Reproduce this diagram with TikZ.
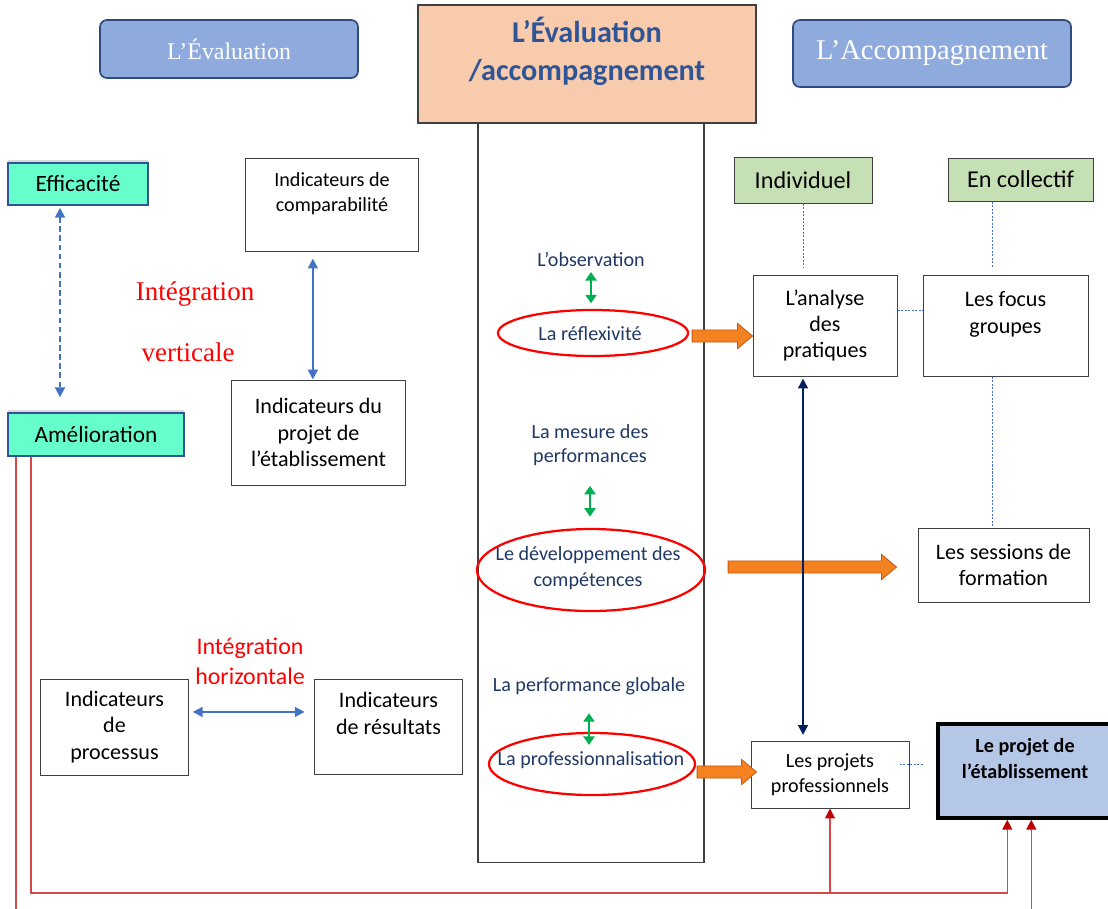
\documentclass[tikz,border=0pt]{standalone}
\usepackage{fontspec}
\setmainfont{Carlito}
\newfontfamily\hdrfont{Liberation Serif}
\usetikzlibrary{arrows.meta,positioning,calc,shapes.geometric,shadows}
\definecolor{inkline}{HTML}{404040}
\definecolor{hdrfill}{HTML}{8FAADC}
\definecolor{hdredge}{HTML}{2F4B7C}
\definecolor{titlefill}{HTML}{F8CBAD}
\definecolor{titletext}{HTML}{2F5597}
\definecolor{goalfill}{HTML}{66FFCC}
\definecolor{goaledge}{HTML}{2F5597}
\definecolor{tagfill}{HTML}{C5E0B4}
\definecolor{midtext}{HTML}{203864}
\definecolor{linkblue}{HTML}{4472C4}
\definecolor{pairgreen}{HTML}{00B050}
\definecolor{navyline}{HTML}{002060}
\definecolor{ringred}{HTML}{FF0000}
\definecolor{fatfill}{HTML}{F58220}
\definecolor{fatedge}{HTML}{C55A11}
\definecolor{fbred}{HTML}{C00000}
\definecolor{fbline}{HTML}{D94848}
\definecolor{projfill}{HTML}{B4C7E7}
\newcommand{\fsz}[2]{\fontsize{#1}{#2}\selectfont}
\newcommand{\fatarrow}[2]{%
  \draw[fat] let \p1=#1, \p2=#2 in
    (\x1,\y1+4.3pt) -- (\x2-10.7pt,\y1+4.3pt) -- (\x2-10.7pt,\y1+9pt)
    -- (\x2,\y1) -- (\x2-10.7pt,\y1-9pt) -- (\x2-10.7pt,\y1-4.3pt)
    -- (\x1,\y1-4.3pt) -- cycle;}

\begin{document}
\begin{tikzpicture}[
  x=0.025cm, y=-0.025cm,
  box/.style={draw=inkline, line width=0.7pt, fill=white, align=center,
              inner sep=0pt, font=\fsz{15.7}{18.8}},
  smallbox/.style={box, font=\fsz{14.3}{17.8}},
  projbox/.style={draw=black, line width=2.4pt, fill=projfill, align=center,
                  inner sep=0pt, font=\fsz{14.3}{18.4}\bfseries},
  hdr/.style={rounded corners=5pt, draw=hdredge, line width=1.2pt, fill=hdrfill,
              text=white, inner sep=0pt},
  titlebox/.style={draw=inkline, line width=0.8pt, fill=titlefill, align=center,
                   text=titletext, inner sep=0pt, font=\fsz{21.5}{27}\bfseries},
  colbox/.style={draw=inkline, line width=0.8pt, inner sep=0pt},
  goal/.style={draw=goaledge, line width=0.9pt, fill=goalfill, inner sep=0pt,
               font=\fsz{16.6}{20},
               drop shadow={shadow xshift=0pt, shadow yshift=2pt, opacity=0.3}},
  tag/.style={draw=inkline, line width=0.7pt, fill=tagfill, inner sep=0pt,
              font=\fsz{17.2}{20}},
  midtxt/.style={text=midtext, align=center, inner sep=0pt, font=\fsz{14.3}{17.5}},
  ring/.style={ellipse, draw=ringred, line width=1.6pt, inner sep=0pt},
  redtxt/.style={text=ringred, align=center, inner sep=0pt},
  pair/.style={{Triangle[length=6pt,width=8pt]}-{Triangle[length=6pt,width=8pt]},
               draw=pairgreen, line width=1pt},
  link/.style={{Triangle[length=7pt,width=7pt]}-{Triangle[length=7pt,width=7pt]},
               draw=linkblue, line width=1.4pt},
  dashlink/.style={link, dash pattern=on 4pt off 2.5pt},
  navy/.style={{Triangle[length=7pt,width=7pt]}-{Triangle[length=7pt,width=7pt]},
               draw=navyline, line width=1.4pt},
  dots/.style={draw=linkblue, line width=0.6pt, dash pattern=on 1.5pt off 1pt},
  fb/.style={-{Triangle[length=7pt,width=7pt,color=fbred]}, draw=fbline, line width=0.8pt},
  fat/.style={fill=fatfill, draw=fatedge, line width=0.6pt},
]
\useasboundingbox (0,0) rectangle (1108,908);

% ---- headers ----
\node[hdr, minimum width=6.45cm, minimum height=1.45cm, font=\hdrfont\fsz{17}{20}] (evalhdr) at (229,49) {L’Évaluation};
\node[hdr, minimum width=6.95cm, minimum height=1.675cm, font=\hdrfont\fsz{20.3}{24}] (accohdr) at (932,53.5) {L’Accompagnement};

% ---- central column ----
\node[colbox, minimum width=5.65cm, minimum height=18.475cm] (column) at (591,492.5) {};
\node[titlebox, minimum width=8.45cm, minimum height=2.95cm] (title) at (587,64) {L’Évaluation\\/accompagnement\\[-5.5pt]\mbox{}};

\node[midtxt] (observ)   at (591,259) {L’observation};
\node[midtxt] (reflex)   at (590,334) {La réflexivité};
\node[ring, minimum width=4.75cm, minimum height=1.15cm] (ringrefl) at (593,333) {};
\node[midtxt] (mesure)   at (590,445) {La mesure des\\performances};
\node[midtxt, font=\fsz{14.3}{18.5}] (devcomp) at (588,568) {Le développement des\\compétences};
\node[ring, minimum width=5.7cm, minimum height=2.05cm] (ringdev) at (591,570) {};
\node[midtxt] (perfglob) at (589,686) {La performance globale};
\node[midtxt] (profes)   at (591,760) {La professionnalisation};
\node[ring, minimum width=5.15cm, minimum height=1.55cm] (ringprof) at (592,764) {};

% ---- evaluation side ----
\node[goal, minimum width=3.5cm, minimum height=1.05cm] (effic) at (78,184) {Efficacité};
\node[goal, minimum width=4.4cm, minimum height=1.075cm] (amel) at (96,434.5) {Amélioration};
\node[smallbox, minimum width=4.3cm, minimum height=2.325cm] (comparab) at (332,204.5) {Indicateurs de\\comparabilité\\~};
\node[box, minimum width=4.325cm, minimum height=2.625cm] (indproj) at (318.5,432.5) {Indicateurs du\\projet de\\l’établissement};
\node[box, minimum width=3.675cm, minimum height=2.4cm] (process) at (114.5,727) {Indicateurs\\de\\processus};
\node[box, minimum width=3.675cm, minimum height=2.375cm] (result) at (388.5,726.5) {Indicateurs\\de résultats\\~};
\node[redtxt, font=\hdrfont\fsz{19.2}{23}] (intv1) at (195,294) {Intégration};
\node[redtxt, font=\hdrfont\fsz{19.2}{23}] (intv2) at (188,352) {verticale};
\node[redtxt, font=\fsz{17}{21.3}] (inth) at (250,661) {Intégration\\horizontale};

% ---- accompaniment side ----
\node[tag, minimum width=3.45cm, minimum height=1.15cm] (indiv) at (803,180) {Individuel};
\node[tag, minimum width=3.625cm, minimum height=1.075cm] (collectif) at (1020.5,179.5) {En collectif};
\node[box, minimum width=3.6cm, minimum height=2.525cm] (analyse) at (825,325.5) {L’analyse\\des\\pratiques};
\node[box, minimum width=4.125cm, minimum height=2.525cm] (focus) at (1005.5,325.5) {Les focus\\groupes\\~};
\node[box, minimum width=4.275cm, minimum height=1.85cm] (sessions) at (1003.5,565) {Les sessions de\\formation};
\node[smallbox, minimum width=3.95cm, minimum height=1.675cm] (projets) at (830,774.5) {Les projets\\professionnels};
\node[projbox, minimum width=4.35cm, minimum height=2.35cm] (projet) at (1025,771) {Le projet de\\l’établissement\\~};

% ---- arrows ----
\draw[pair, shorten <=4pt, shorten >=4pt] (observ.south) -- (observ.south |- ringrefl.north);
\draw[pair, shorten <=14pt, shorten >=8pt] (mesure.south) -- (mesure.south |- ringdev.north);
\draw[pair, shorten <=13pt] (perfglob.south) -- ($(perfglob.south |- ringprof.north)+(0,13)$);

\fatarrow{($(ringrefl.east)+(3,3)$)}{(analyse.west)}
\fatarrow{($(ringdev.east)+(22,-3)$)}{($(sessions.west)+(-21,0)$)}
\fatarrow{($(ringprof.east)+(1,8)$)}{($(projets.west)+(6,0)$)}

\draw[dashlink, shorten <=1.5pt, shorten >=10.7pt] ([xshift=-12.8pt]effic.south) -- ([xshift=-12.8pt]effic.south |- amel.north);
\draw[link, shorten <=5pt] ([xshift=-4pt]indproj.north |- comparab.south) -- ([xshift=-4pt]indproj.north);
\draw[link, shorten <=3pt, shorten >=7pt] ([yshift=10.7pt]process.east) -- ([yshift=10.7pt]process.east -| result.west);

\draw[navy, shorten <=1.5pt, shorten >=4pt] (indiv.south |- analyse.south) -- (indiv.south |- projets.north);

\coordinate (flink) at ($(focus.north)+(-13,0)$);
\draw[dots] (indiv.south) -- ([yshift=5pt]indiv.south |- analyse.north);
\draw[dots] (collectif.south -| flink) -- ([yshift=5pt]flink);
\draw[dots] ([yshift=11pt]analyse.east) -- ([yshift=11pt]focus.west);
\draw[dots] (flink |- focus.south) -- (flink |- sessions.north);
\draw[dots] ([xshift=-7pt,yshift=7pt]projets.east) -- ([xshift=-9pt,yshift=7pt]projets.east -| projet.west);

% ---- feedback lines ----
\coordinate (loopin)  at (31,893);
\coordinate (loopout) at (16,940);
\draw[fb] (amel.south -| loopin) -- (loopin) -| ($(projet.south west)+(71,0)$);
\draw[fb] (loopin -| projets.south) -- (projets.south);
\draw[fb] (amel.south -| loopout) -- (loopout) -| ($(projet.south west)+(95,0)$);

\end{tikzpicture}
\end{document}
